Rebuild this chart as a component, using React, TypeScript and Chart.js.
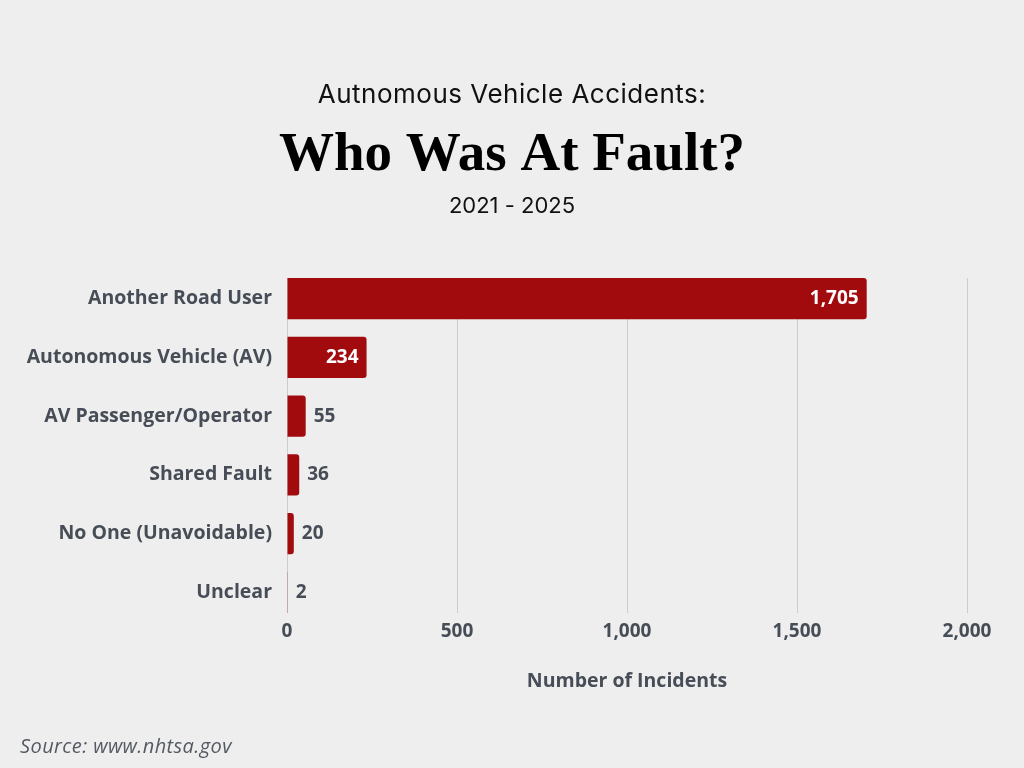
import { useEffect, useRef } from "react";
import { Chart, registerables } from "chart.js";
import type { ChartConfiguration, Plugin } from "chart.js";

Chart.register(...registerables);

const categories = [
  "Another Road User",
  "Autonomous Vehicle (AV)",
  "AV Passenger/Operator",
  "Shared Fault",
  "No One (Unavoidable)",
  "Unclear",
];
const incidents = [1705, 234, 55, 36, 20, 2];
const xTicks = [0, 500, 1000, 1500, 2000];

const kicker = "Autnomous Vehicle Accidents:";
const headline = "Who Was At Fault?";
const period = "2021 - 2025";
const xAxisTitle = "Number of Incidents";
const source = "Source: www.nhtsa.gov";

const BAR_RED = "#a10b0e";
const TEXT_GRAY = "#474d57";
const GRID_GRAY = "#cccccc";
const LABEL_FONT = "'Open Sans'";

// texts above the plot and the source line in the corner
const headerText: Plugin<"bar"> = {
  id: "headerText",
  afterDraw(chart) {
    const { ctx, width } = chart;
    const cx = width / 2;
    ctx.save();
    ctx.textAlign = "center";
    ctx.textBaseline = "alphabetic";
    ctx.fillStyle = "#111111";
    ctx.font = "400 26px Inter";
    (ctx as any).letterSpacing = "0.5px";
    ctx.fillText(kicker, cx, 103);
    (ctx as any).letterSpacing = "0px";
    ctx.fillStyle = "#000000";
    ctx.font = "bold 55px 'Liberation Serif'";
    ctx.fillText(headline, cx, 170);
    ctx.fillStyle = "#111111";
    ctx.font = "400 22px Inter";
    ctx.fillText(period, cx, 213);

    ctx.textAlign = "left";
    ctx.fillStyle = "#555a62";
    ctx.font = `italic 20px ${LABEL_FONT}`;
    (ctx as any).letterSpacing = "0.4px";
    ctx.fillText(source, 20, 753);
    ctx.restore();
  },
};

// value at the end of each bar: inside when it fits, outside otherwise
const valueLabels: Plugin<"bar"> = {
  id: "valueLabels",
  afterDatasetsDraw(chart) {
    const { ctx } = chart;
    const meta = chart.getDatasetMeta(0);
    ctx.save();
    ctx.font = `bold 19px ${LABEL_FONT}`;
    ctx.textBaseline = "middle";
    meta.data.forEach((bar, i) => {
      const { x, y, base } = bar.getProps(["x", "y", "base"], true) as {
        x: number;
        y: number;
        base: number;
      };
      const text = incidents[i].toLocaleString("en-US");
      const w = ctx.measureText(text).width;
      if (x - base > w + 16) {
        ctx.fillStyle = "#ffffff";
        ctx.textAlign = "right";
        ctx.fillText(text, x - 8, y);
      } else {
        ctx.fillStyle = TEXT_GRAY;
        ctx.textAlign = "left";
        ctx.fillText(text, x + 8, y);
      }
    });
    ctx.restore();
  },
};

function FaultChart() {
  const canvasRef = useRef<HTMLCanvasElement>(null);
  const chartRef = useRef<Chart | null>(null);

  useEffect(() => {
    if (!canvasRef.current) return;

    Chart.defaults.font.family = LABEL_FONT;

    const config: ChartConfiguration<"bar"> = {
      type: "bar",
      data: {
        datasets: [
          {
            label: xAxisTitle,
            data: incidents.map((v, i) => ({ x: v, y: i })),
            backgroundColor: BAR_RED,
            borderRadius: 3,
            borderSkipped: "start",
            categoryPercentage: 1,
            barPercentage: 0.7,
          },
        ],
      },
      options: {
        indexAxis: "y",
        responsive: true,
        maintainAspectRatio: false,
        animation: false,
        layout: {
          padding: { top: 278, right: 57, left: 0, bottom: 0 },
        },
        plugins: {
          legend: { display: false },
          title: { display: false },
          tooltip: { enabled: false },
        },
        scales: {
          x: {
            type: "linear",
            position: "bottom",
            min: xTicks[0],
            max: xTicks[xTicks.length - 1],
            ticks: {
              stepSize: xTicks[1] - xTicks[0],
              color: TEXT_GRAY,
              padding: 7,
              font: { size: 19, weight: "bold" },
              callback: (v) => Number(v).toLocaleString("en-US"),
            },
            grid: {
              color: GRID_GRAY,
              lineWidth: 1,
              drawTicks: false,
            },
            border: { display: false },
            title: {
              display: true,
              text: xAxisTitle,
              color: TEXT_GRAY,
              font: { size: 19.5, weight: "bold" },
              padding: { top: 0, bottom: 75 },
            },
            afterFit: (scale) => {
              scale.height = 155;
            },
          },
          y: {
            type: "linear",
            reverse: true,
            offset: false,
            min: -0.35,
            max: categories.length - 1 + 0.35,
            ticks: {
              stepSize: 1,
              includeBounds: false,
              autoSkip: false,
              color: TEXT_GRAY,
              padding: 15,
              font: { size: 19.5, weight: "bold" },
              callback: (v) =>
                Number.isInteger(Number(v)) ? categories[Number(v)] ?? "" : "",
            },
            grid: { display: false, drawTicks: false },
            border: { display: false },
            afterFit: (scale) => {
              scale.width = 287;
            },
          },
        },
      },
      plugins: [headerText, valueLabels],
    };

    chartRef.current = new Chart(canvasRef.current, config);

    return () => {
      if (chartRef.current) {
        chartRef.current.destroy();
        chartRef.current = null;
      }
    };
  }, []);

  return (
    <div
      style={{
        position: "absolute",
        left: 0,
        top: 0,
        width: 1024,
        height: 768,
        background: "#eeeeee",
      }}
    >
      <canvas ref={canvasRef}></canvas>
    </div>
  );
}

export default function App() {
  return <FaultChart />;
}
